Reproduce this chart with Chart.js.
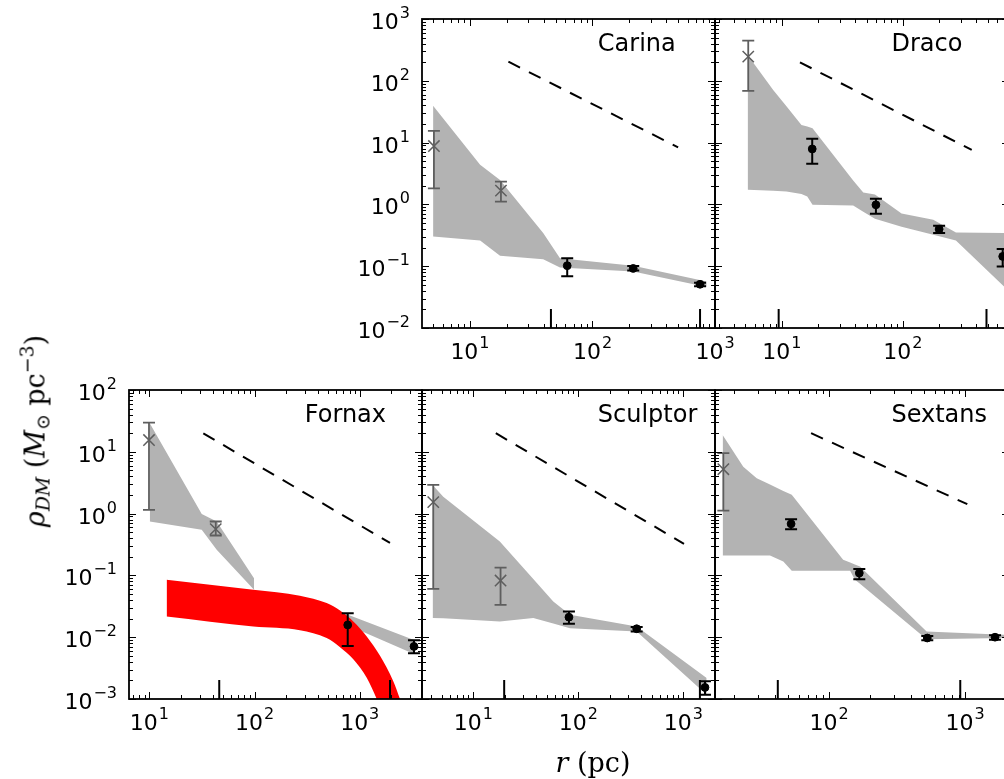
<!DOCTYPE html>
<html>
<head>
<meta charset="utf-8">
<script src="https://cdn.jsdelivr.net/npm/chart.js@4.4.1/dist/chart.umd.min.js"></script>
<style>
  html, body { margin: 0; padding: 0; background: #fff; }
  #wrap { position: relative; width: 1004px; height: 779px; overflow: hidden; background: #fff; }
  #wrap canvas { position: absolute; left: 0; top: 0; }
  .axlab { position: absolute; white-space: nowrap; font-family: "DejaVu Serif", "Liberation Serif", serif; font-size: 27px; color: #000; line-height: 1; }
  .axlab i { font-style: italic; }
  .axlab sub { font-size: 70%; vertical-align: -0.25em; line-height: 0; }
  .axlab sup { font-size: 70%; vertical-align: 0.6em; line-height: 0; }
</style>
</head>
<body>
<div id="wrap">
  <canvas id="cv-carina" width="1020" height="779"></canvas>
  <canvas id="cv-draco" width="1020" height="779"></canvas>
  <canvas id="cv-fornax" width="1020" height="779"></canvas>
  <canvas id="cv-sculptor" width="1020" height="779"></canvas>
  <canvas id="cv-sextans" width="1020" height="779"></canvas>
  <div class="axlab" style="left:35px;top:431px;transform:translate(-50%,-50%) rotate(-90deg);"><i>ρ</i><sub><i>DM</i></sub> (<i>M</i><sub>⊙</sub> pc<sup>−3</sup>)</div>
  <div class="axlab" style="left:593px;top:762px;transform:translate(-50%,-50%);"><i>r</i> (pc)</div>
</div>
<script>
// ---------------- Carina ----------------
const carinaBandR  = [5.0, 12.1, 17.6, 39.6, 54.3, 215, 855];
const carinaBandHi = [39.3, 4.37, 2.49, 0.343, 0.135, 0.102, 0.0567];
const carinaBandLo = [0.303, 0.261, 0.148, 0.130, 0.0955, 0.0822, 0.046];
const carinaInnerR   = [5.08, 17.9];
const carinaInnerRho = [8.8, 1.67];
const carinaInnerLo  = [1.82, 1.11];
const carinaInnerHi  = [15.5, 2.33];
const carinaR   = [62.2, 215, 755];
const carinaRho = [0.102, 0.092, 0.051];
const carinaLo  = [0.069, 0.085, 0.0475];
const carinaHi  = [0.134, 0.1006, 0.054];
const carinaSlopeR   = [20.6, 500];
const carinaSlopeRho = [204, 8.4];
const carinaMarkR = [45.8, 755];

// ---------------- Draco ----------------
const dracoBandR  = [5.21, 8.47, 10.9, 14.5, 16.2, 17.9, 38.8, 47.0, 58.7, 97.4, 178, 274, 684, 752];
const dracoBandHi = [262, 71.1, 38.7, 19.3, 18.2, 17.1, 2.43, 1.56, 1.44, 0.713, 0.564, 0.351, 0.343, 0.343];
const dracoBandLo = [1.72, 1.66, 1.62, 1.48, 1.34, 0.985, 0.96, 0.759, 0.585, 0.435, 0.322, 0.261, 0.047, 0.0397];
const dracoInnerR   = [5.27];
const dracoInnerRho = [246];
const dracoInnerLo  = [68.6];
const dracoInnerHi  = [447];
const dracoR   = [17.8, 59.8, 199, 667];
const dracoRho = [7.9, 0.985, 0.398, 0.144];
const dracoLo  = [4.53, 0.705, 0.343, 0.099];
const dracoHi  = [11.5, 1.23, 0.451, 0.189];
const dracoSlopeR   = [14.1, 370];
const dracoSlopeRho = [199, 7.6];
const dracoMarkR = [9.4, 490];

// ---------------- Fornax ----------------
const fornaxBandR  = [10.1, 31.5, 43.7, 98.9];
const fornaxBandHi = [28.9, 0.989, 0.745, 0.090];
const fornaxBandLo = [0.745, 0.546, 0.259, 0.0585];
const fornaxOuterBandR  = [420, 752, 3240];
const fornaxOuterBandHi = [0.0334, 0.0236, 0.0091];
const fornaxOuterBandLo = [0.0216, 0.0159, 0.0054];
const fornaxCoreR  = [14.6, 97.5, 270, 485, 650, 869, 1166, 1560, 2085, 2415, 2797];
const fornaxCoreHi = [0.0849, 0.0585, 0.0468, 0.0356, 0.0270, 0.0180, 0.0103, 0.0050, 0.00193, 0.00100, 0.00052];
const fornaxCoreLo = [0.0216, 0.0149, 0.0130, 0.0097, 0.0069, 0.0044, 0.0022, 0.00076, 0.00025, 0.000135, 0.00007];
const fornaxInnerR   = [9.93, 42.8];
const fornaxInnerRho = [15.5, 0.56];
const fornaxInnerLo  = [1.15, 0.442];
const fornaxInnerHi  = [29.6, 0.745];
const fornaxR   = [769, 3280];
const fornaxRho = [0.0158, 0.0071];
const fornaxLo  = [0.0072, 0.0055];
const fornaxHi  = [0.0245, 0.0089];
const fornaxSlopeR   = [32.6, 1940];
const fornaxSlopeRho = [19.9, 0.335];
const fornaxMarkR = [46.2, 1940];

// ---------------- Sculptor ----------------
const sculptorBandR  = [4.10, 5.18, 17.9, 37.3, 57.8, 83.4, 360, 1670];
const sculptorBandHi = [2.91, 1.88, 0.353, 0.0875, 0.0379, 0.0231, 0.0149, 0.00219];
const sculptorBandLo = [0.0204, 0.0202, 0.018, 0.0204, 0.0167, 0.0140, 0.0124, 0.00117];
const sculptorInnerR   = [4.16, 18.2];
const sculptorInnerRho = [1.53, 0.0826];
const sculptorInnerLo  = [0.0607, 0.0334];
const sculptorInnerHi  = [2.91, 0.134];
const sculptorR   = [81.5, 360, 1610];
const sculptorRho = [0.0211, 0.0137, 0.00154];
const sculptorLo  = [0.0165, 0.0124, 0.00117];
const sculptorHi  = [0.026, 0.0146, 0.00193];
const sculptorSlopeR   = [16.4, 1016];
const sculptorSlopeRho = [20, 0.324];
const sculptorMarkR = [19.7, 1440];

// ---------------- Sextans ----------------
const sextansBandR  = [16.5, 23.4, 29.4, 36.8, 46.1, 53.2, 127, 143, 155, 169, 522, 1936, 2110];
const sextansBandHi = [18.7, 5.75, 3.73, 2.95, 2.33, 2.01, 0.179, 0.162, 0.150, 0.139, 0.0124, 0.011, 0.011];
const sextansBandLo = [0.21, 0.21, 0.21, 0.21, 0.168, 0.119, 0.119, 0.119, 0.085, 0.0731, 0.0093, 0.0097, 0.0097];
const sextansInnerR   = [16.7];
const sextansInnerRho = [5.22];
const sextansInnerLo  = [1.12];
const sextansInnerHi  = [9.5];
const sextansR   = [52.6, 167, 528, 1663];
const sextansRho = [0.682, 0.109, 0.0097, 0.0100];
const sextansLo  = [0.56, 0.087, 0.0089, 0.0091];
const sextansHi  = [0.813, 0.127, 0.0105, 0.0108];
const sextansSlopeR   = [73.8, 1040];
const sextansSlopeRho = [20, 1.42];
const sextansMarkR = [42, 923];

// ---------------- drawing helpers ----------------
const BAND_GREY = '#b3b3b3';
const CORE_RED = '#ff0000';
const INNER_GREY = '#5e5e5e';
const CANVAS_W = 1020, CANVAS_H = 779;

const pts = (xs, ys) => xs.map((v, i) => ({ x: v, y: ys[i] }));

function band(r, hi, lo, color, order, smooth) {
  const curve = smooth ? { cubicInterpolationMode: 'monotone' } : {};
  return [
    { data: pts(r, hi), fill: '+1', backgroundColor: color, borderColor: 'rgba(0,0,0,0)', borderWidth: 0, pointRadius: 0, order, clip: 0, ...curve },
    { data: pts(r, lo), fill: false, borderColor: 'rgba(0,0,0,0)', borderWidth: 0, pointRadius: 0, order, clip: 0, ...curve }
  ];
}
function slope(r, rho) {
  return { data: pts(r, rho), fill: false, borderColor: '#000', borderWidth: 2, borderDash: [13, 10], pointRadius: 0, order: 4, clip: 0 };
}
function innerPoints(r, rho, lo, hi) {
  return { data: pts(r, rho), showLine: false, fill: false, pointStyle: 'crossRot', pointRadius: 8,
    pointBorderColor: INNER_GREY, pointBackgroundColor: INNER_GREY, pointBorderWidth: 1.5, borderColor: INNER_GREY,
    errLo: lo, errHi: hi, errColor: INNER_GREY, errWidth: 1.8, errCap: 6, order: 3 };
}
function outerPoints(r, rho, lo, hi) {
  return { data: pts(r, rho), showLine: false, fill: false, pointStyle: 'circle', pointRadius: 3.9,
    pointBorderColor: '#000', pointBackgroundColor: '#000', pointBorderWidth: 1, borderColor: '#000',
    errLo: lo, errHi: hi, errColor: '#000', errWidth: 2, errCap: 6, order: 2 };
}

function logTicks(min, max) {
  const major = [], minor = [];
  const k0 = Math.floor(Math.log10(min)), k1 = Math.ceil(Math.log10(max));
  for (let k = k0; k <= k1; k++) {
    for (let m = 1; m <= 9; m++) {
      const v = m * Math.pow(10, k);
      if (v < min * 0.9999 || v > max * 1.0001) continue;
      if (m === 1) major.push({ v, k }); else minor.push(v);
    }
  }
  return { major, minor };
}

const TICK_FONT = '22px "DejaVu Sans"';
const SUP_FONT = '16px "DejaVu Sans"';
function powLabel(ctx, k, x, y, align) {
  const sup = k < 0 ? '\u2212' + (-k) : String(k);
  ctx.font = TICK_FONT; const wb = ctx.measureText('10').width;
  ctx.font = SUP_FONT; const ws = ctx.measureText(sup).width;
  const total = wb + ws + 1;
  let x0 = align === 'right' ? x - total : x - total / 2;
  ctx.textAlign = 'left'; ctx.textBaseline = 'alphabetic';
  ctx.font = TICK_FONT; ctx.fillText('10', x0, y);
  ctx.font = SUP_FONT; ctx.fillText(sup, x0 + wb + 1, y - 11);
}

const panelFrame = {
  id: 'panelFrame',
  beforeDatasetDraw(chart, args) {
    const ds = chart.data.datasets[args.index];
    if (!ds.errLo) return;
    const { ctx, chartArea: a, scales: { x, y } } = chart;
    ctx.save();
    ctx.beginPath(); ctx.rect(a.left, a.top, a.right - a.left, a.bottom - a.top); ctx.clip();
    ctx.strokeStyle = ds.errColor; ctx.lineWidth = ds.errWidth;
    ds.data.forEach((p, i) => {
      const px = x.getPixelForValue(p.x);
      const yt = y.getPixelForValue(ds.errHi[i]);
      const yb = y.getPixelForValue(ds.errLo[i]);
      ctx.beginPath();
      ctx.moveTo(px, yt); ctx.lineTo(px, yb);
      ctx.moveTo(px - ds.errCap, yt); ctx.lineTo(px + ds.errCap, yt);
      ctx.moveTo(px - ds.errCap, yb); ctx.lineTo(px + ds.errCap, yb);
      ctx.stroke();
    });
    ctx.restore();
  },
  afterDraw(chart, args, opts) {
    const { ctx, chartArea: a, scales: { x, y } } = chart;
    ctx.save();
    ctx.fillStyle = '#000'; ctx.strokeStyle = '#000';
    // marker ticks standing on the bottom axis
    ctx.lineWidth = 2;
    (opts.marks || []).forEach(r => {
      const px = x.getPixelForValue(r);
      ctx.beginPath(); ctx.moveTo(px, a.bottom); ctx.lineTo(px, a.bottom - 19); ctx.stroke();
    });
    // inward ticks on all four sides
    const xt = logTicks(x.min, x.max), yt = logTicks(y.min, y.max);
    ctx.lineWidth = 1;
    ctx.beginPath();
    xt.major.forEach(t => { const px = Math.round(x.getPixelForValue(t.v)) + 0.5;
      ctx.moveTo(px, a.bottom); ctx.lineTo(px, a.bottom - 7); ctx.moveTo(px, a.top); ctx.lineTo(px, a.top + 7); });
    xt.minor.forEach(v => { const px = Math.round(x.getPixelForValue(v)) + 0.5;
      ctx.moveTo(px, a.bottom); ctx.lineTo(px, a.bottom - 4); ctx.moveTo(px, a.top); ctx.lineTo(px, a.top + 4); });
    yt.major.forEach(t => { const py = Math.round(y.getPixelForValue(t.v)) + 0.5;
      ctx.moveTo(a.left, py); ctx.lineTo(a.left + 7, py); ctx.moveTo(a.right, py); ctx.lineTo(a.right - 7, py); });
    yt.minor.forEach(v => { const py = Math.round(y.getPixelForValue(v)) + 0.5;
      ctx.moveTo(a.left, py); ctx.lineTo(a.left + 4, py); ctx.moveTo(a.right, py); ctx.lineTo(a.right - 4, py); });
    ctx.stroke();
    // frame
    ctx.lineWidth = 1.8;
    ctx.strokeRect(a.left, a.top, a.right - a.left, a.bottom - a.top);
    // tick labels
    xt.major.forEach(t => powLabel(ctx, t.k, x.getPixelForValue(t.v), a.bottom + 31, 'center'));
    if (opts.yLabels) yt.major.forEach(t => powLabel(ctx, t.k, a.left - 12, y.getPixelForValue(t.v) + 10, 'right'));
    // galaxy name
    ctx.font = '24px "DejaVu Sans"'; ctx.textAlign = 'left'; ctx.textBaseline = 'alphabetic';
    ctx.fillText(opts.name, a.left + 0.6 * (a.right - a.left), a.top + 32);
    ctx.restore();
  }
};

function makePanel(id, box, xr, yr, datasets, name, marks, yLabels) {
  return new Chart(document.getElementById(id), {
    type: 'line',
    data: { datasets },
    options: {
      responsive: false, animation: false, devicePixelRatio: 1, events: [],
      layout: { padding: { left: box.l, top: box.t, right: CANVAS_W - box.r, bottom: CANVAS_H - box.b } },
      plugins: { legend: { display: false }, tooltip: { enabled: false }, panelFrame: { name, marks, yLabels } },
      scales: {
        x: { type: 'logarithmic', min: xr[0], max: xr[1], display: false },
        y: { type: 'logarithmic', min: yr[0], max: yr[1], display: false }
      }
    },
    plugins: [panelFrame]
  });
}

const TOP_Y = [1e-2, 1e3], BOTTOM_Y = [1e-3, 1e2];

makePanel('cv-carina', { l: 422, r: 715, t: 19, b: 328 }, [4.06, 1000], TOP_Y, [
  ...band(carinaBandR, carinaBandHi, carinaBandLo, BAND_GREY, 6),
  slope(carinaSlopeR, carinaSlopeRho),
  innerPoints(carinaInnerR, carinaInnerRho, carinaInnerLo, carinaInnerHi),
  outerPoints(carinaR, carinaRho, carinaLo, carinaHi)
], 'Carina', carinaMarkR, true);

makePanel('cv-draco', { l: 715, r: 1009, t: 19, b: 328 }, [2.80, 752], TOP_Y, [
  ...band(dracoBandR, dracoBandHi, dracoBandLo, BAND_GREY, 6),
  slope(dracoSlopeR, dracoSlopeRho),
  innerPoints(dracoInnerR, dracoInnerRho, dracoInnerLo, dracoInnerHi),
  outerPoints(dracoR, dracoRho, dracoLo, dracoHi)
], 'Draco', dracoMarkR, false);

makePanel('cv-fornax', { l: 129, r: 422, t: 390, b: 699 }, [6.41, 3909], BOTTOM_Y, [
  ...band(fornaxBandR, fornaxBandHi, fornaxBandLo, BAND_GREY, 6),
  ...band(fornaxOuterBandR, fornaxOuterBandHi, fornaxOuterBandLo, BAND_GREY, 6),
  ...band(fornaxCoreR, fornaxCoreHi, fornaxCoreLo, CORE_RED, 5, true),
  slope(fornaxSlopeR, fornaxSlopeRho),
  innerPoints(fornaxInnerR, fornaxInnerRho, fornaxInnerLo, fornaxInnerHi),
  outerPoints(fornaxR, fornaxRho, fornaxLo, fornaxHi)
], 'Fornax', fornaxMarkR, true);

makePanel('cv-sculptor', { l: 422, r: 715, t: 390, b: 699 }, [3.25, 2005], BOTTOM_Y, [
  ...band(sculptorBandR, sculptorBandHi, sculptorBandLo, BAND_GREY, 6),
  slope(sculptorSlopeR, sculptorSlopeRho),
  innerPoints(sculptorInnerR, sculptorInnerRho, sculptorInnerLo, sculptorInnerHi),
  outerPoints(sculptorR, sculptorRho, sculptorLo, sculptorHi)
], 'Sculptor', sculptorMarkR, false);

makePanel('cv-sextans', { l: 715, r: 1009, t: 390, b: 699 }, [14.5, 2107], BOTTOM_Y, [
  ...band(sextansBandR, sextansBandHi, sextansBandLo, BAND_GREY, 6),
  slope(sextansSlopeR, sextansSlopeRho),
  innerPoints(sextansInnerR, sextansInnerRho, sextansInnerLo, sextansInnerHi),
  outerPoints(sextansR, sextansRho, sextansLo, sextansHi)
], 'Sextans', sextansMarkR, false);
</script>
</body>
</html>
